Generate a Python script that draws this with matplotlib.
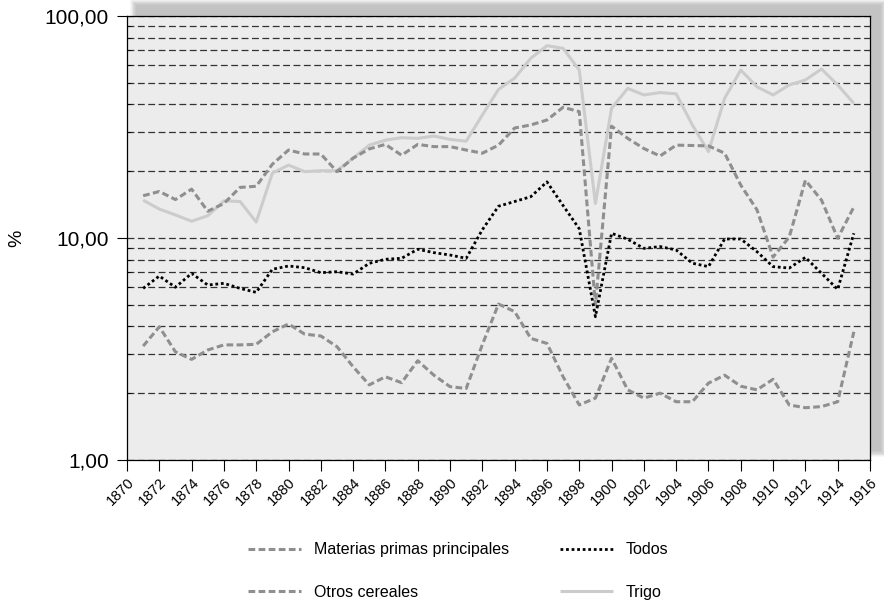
import matplotlib
matplotlib.use("Agg")
import matplotlib.pyplot as plt
from matplotlib.ticker import FixedLocator, FuncFormatter, NullFormatter
from matplotlib.patches import Rectangle
import numpy as np

plt.rcParams['font.family'] = ['Liberation Sans', 'DejaVu Sans']

years = list(range(1871, 1916))

trigo = [14.8, 13.5, 12.7, 11.9, 12.6, 14.7, 14.6, 11.8, 19.6, 21.3,
         19.9, 20.1, 20.1, 22.9, 26.2, 27.6, 28.3, 28.1, 28.8, 27.8,
         27.3, 35.8, 46.7, 52.5, 64.5, 73.5, 71.5, 57.1, 14.3, 38.4,
         47.2, 44.1, 45.2, 44.6, 32.3, 24.5, 42.6, 57.1, 48.0, 44.1,
         48.9, 51.5, 57.7, 48.9, 40.4]

materias = [15.5, 16.2, 14.9, 16.6, 13.2, 14.3, 16.9, 17.1, 21.5, 24.9,
            23.9, 23.9, 19.9, 22.9, 25.2, 26.4, 23.6, 26.4, 25.8, 25.8,
            24.9, 24.1, 26.2, 31.3, 32.3, 34.0, 38.8, 37.1, 5.0, 31.9,
            28.1, 25.3, 23.4, 26.2, 26.1, 26.0, 24.1, 17.3, 13.4, 8.2,
            10.1, 18.2, 14.8, 9.97, 13.8]

otros = [3.26, 3.98, 3.07, 2.84, 3.13, 3.30, 3.30, 3.32, 3.78, 4.10,
         3.69, 3.62, 3.24, 2.63, 2.18, 2.37, 2.23, 2.80, 2.41, 2.14,
         2.10, 3.31, 5.04, 4.66, 3.53, 3.35, 2.37, 1.77, 1.90, 2.87,
         2.07, 1.90, 2.00, 1.83, 1.83, 2.22, 2.41, 2.15, 2.07, 2.31,
         1.77, 1.72, 1.74, 1.83, 3.78]

todos = [5.93, 6.74, 6.00, 6.93, 6.14, 6.25, 5.93, 5.69, 7.23, 7.48,
         7.35, 6.98, 7.05, 6.88, 7.69, 8.02, 8.10, 8.90, 8.59, 8.38,
         8.10, 10.9, 13.9, 14.6, 15.35, 17.9, 14.0, 11.0, 4.42, 10.5,
         9.87, 8.98, 9.15, 8.83, 7.70, 7.43, 9.90, 9.90, 8.68, 7.43,
         7.32, 8.18, 6.93, 5.87, 10.5]

labels = ["Materias primas principales", "Otros cereales", "Todos", "Trigo"]
xticks = list(range(1870, 1917, 2))
yticks_major = [1, 10, 100]

W, H = 884, 602
fig = plt.figure(figsize=(W / 100, H / 100), dpi=100)
fig.patch.set_facecolor('white')

L, R, T, B = 127, 870, 16, 460
ax_rect = [L / W, 1 - B / H, (R - L) / W, (B - T) / H]

# soft drop shadow (offset right/up)
for i in range(8):
    grow = (8 - i) * 0.9
    sh = Rectangle(((L + 10 - grow) / W, (H - B + 10 - grow) / H),
                   (R - L + 2 * grow) / W, (B - T + 2 * grow) / H,
                   transform=fig.transFigure, facecolor='#000000',
                   alpha=0.03, edgecolor='none', zorder=0)
    fig.patches.append(sh)

ax = fig.add_axes(ax_rect, zorder=2)
ax.set_facecolor('#ececec')
ax.set_yscale('log')
ax.set_xlim(1870, 1916)
ax.set_ylim(1, 100)

ax.plot(years, trigo, color='#cccccc', lw=2.2, solid_capstyle='butt',
        label=labels[3], zorder=3)
ax.plot(years, materias, color='#8f8f8f', lw=2.2, linestyle=(0, (2.2, 1.1)),
        label=labels[0], zorder=4)
ax.plot(years, otros, color='#8f8f8f', lw=2.2, linestyle=(0, (2.2, 1.1)),
        label=labels[1], zorder=4)
ax.plot(years, todos, color='#000000', lw=2.0, linestyle=(0, (1, 1)),
        label=labels[2], zorder=5)

ax.yaxis.set_major_locator(FixedLocator(yticks_major))
minor = [v * d for d in (1, 10) for v in range(2, 10)]
ax.yaxis.set_minor_locator(FixedLocator(minor))
ax.yaxis.set_major_formatter(FuncFormatter(lambda v, p: f"{v:.2f}".replace('.', ',')))
ax.yaxis.set_minor_formatter(NullFormatter())
ax.tick_params(axis='y', which='major', direction='out', length=7, width=0.8,
               labelsize=15, pad=6)
ax.tick_params(axis='y', which='minor', direction='in', length=3, width=0.6)

ax.set_xticks(xticks)
ax.set_xticklabels([str(x) for x in xticks], rotation=45, ha='right',
                   rotation_mode='anchor', fontsize=10.5)
ax.tick_params(axis='x', which='major', direction='out', length=8, width=0.8, pad=3)
ax.tick_params(axis='x', which='minor', bottom=False)

ax.set_axisbelow(True)
ax.grid(which='both', axis='y', color='#333333', lw=0.9, linestyle=(0, (5.5, 2.8)))
ax.grid(which='both', axis='x', visible=False)

for s in ax.spines.values():
    s.set_color('#000000')
    s.set_linewidth(0.9)

fig.text(17 / W, 1 - 238 / H, '%', rotation=90, fontsize=14,
         ha='center', va='center')

h, l = ax.get_legend_handles_labels()
order = [l.index(x) for x in labels]
leg = fig.legend([h[i] for i in order], [l[i] for i in order], ncol=2,
                 loc='center', bbox_to_anchor=(458 / W, 1 - 571 / H),
                 frameon=False, fontsize=11.5, handlelength=3.3,
                 handletextpad=0.8, columnspacing=3.2, labelspacing=1.7)

fig.savefig('out.png', dpi=100, facecolor='white')
